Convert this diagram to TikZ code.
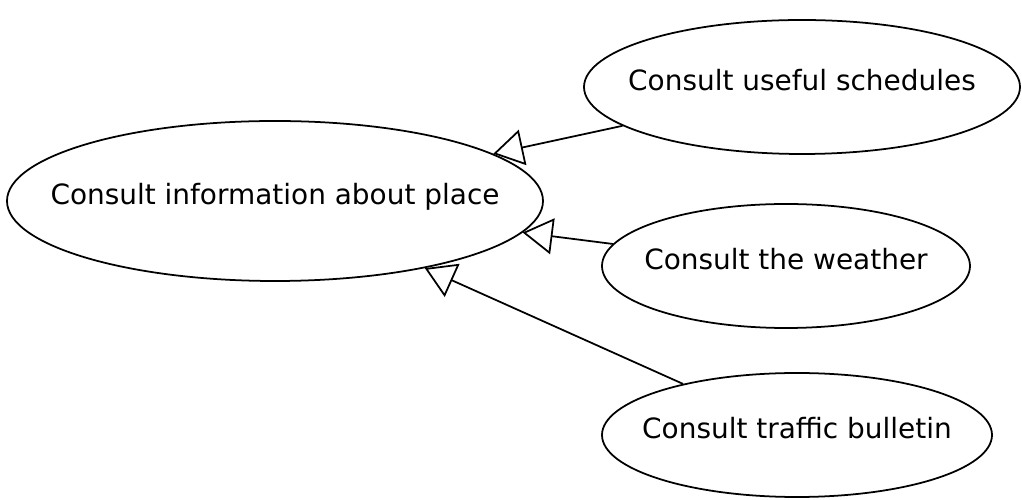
\documentclass[tikz,border=0pt]{standalone}
\usepackage{fontspec}
\setmainfont{DejaVu Sans}
\usepackage{tikz}
\usetikzlibrary{shapes.geometric, positioning, arrows.meta}

\tikzset{
  % the ellipse size comes from minimum width/height only, not from the text
  usecase/.style={ellipse, draw, line width=1pt, fill=white, inner sep=0pt,
    font=\fontsize{15.9}{19}\selectfont, text depth=8pt,
    execute at begin node={\hbox to 0pt\bgroup\hss},
    execute at end node={\hss\egroup}},
}

\begin{document}
\begin{tikzpicture}
	[on grid, line width=1pt, >={Triangle[open, length=0.6cm, width=0.72cm]}]
   \useasboundingbox (-5.5,-5.98) rectangle (14.94,4.02);
   \node[usecase, minimum width=10.72cm, minimum height=3.2cm] (place) at (0,0) {Consult information about place};
   \node[usecase, minimum width=8.72cm, minimum height=2.68cm] (schedules) [above right=2.28cm and 10.54cm of place] {Consult useful schedules};
   \node[usecase, minimum width=7.36cm, minimum height=2.48cm] (weather) [below right=1.3cm and 10.22cm of place] {Consult the weather};
   \node[usecase, minimum width=7.8cm, minimum height=2.48cm] (traffic) [below right=4.68cm and 10.44cm of place] {Consult traffic bulletin};
    \path[->]
    (schedules) edge (place)
    (weather) edge (place)
    (traffic) edge (place);
\end{tikzpicture}
\end{document}
